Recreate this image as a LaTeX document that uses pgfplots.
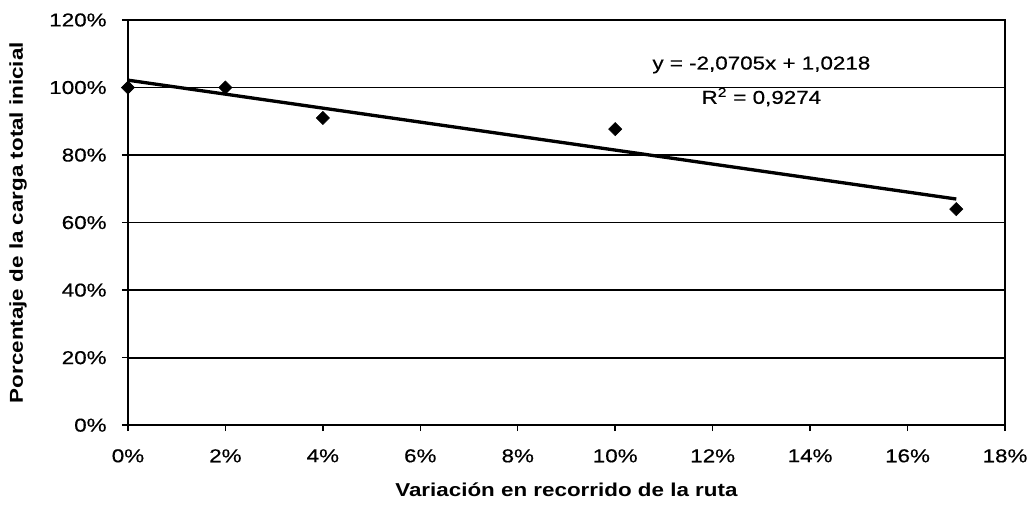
\documentclass[border=0pt]{standalone}
\usepackage{pgfplots}
\pgfplotsset{compat=1.18}
\usepackage{fontspec}
\setmainfont{Liberation Sans}[FakeStretch=1.2]
\newfontfamily\tickfont{Liberation Sans}[FakeStretch=1.2, FakeBold=0.5]
\begin{document}
\begin{tikzpicture}
\useasboundingbox (-96pt,-64.5pt) rectangle (680.5pt,319pt);
\begin{axis}[
  at={(0,0)}, anchor=south west,
  scale only axis, width=658pt, height=304pt,
  xmin=0, xmax=18, ymin=0, ymax=120,
  xtick={0,2,...,18}, ytick={0,20,...,120},
  xticklabels={0\%,2\%,4\%,6\%,8\%,10\%,12\%,14\%,16\%,18\%},
  yticklabels={0\%,20\%,40\%,60\%,80\%,100\%,120\%},
  tick align=outside, tick pos=left,
  major tick length=4.5pt,
  ymajorgrids, grid style={black, line width=1.3pt},
  axis line style={black, line width=1.3pt},
  tick style={black, line width=1.1pt},
  ticklabel style={font=\tickfont\fontsize{14}{16}\selectfont},
  xticklabel style={yshift=-10pt},
  yticklabel style={xshift=-8pt},
  xlabel={\textbf{Variación en recorrido de la ruta}},
  ylabel={\textbf{Porcentaje de la carga total inicial}},
  label style={font=\fontsize{14}{16}\selectfont},
  xlabel style={at={(axis description cs:0.5,-0.16)}, anchor=center},
  ylabel style={at={(axis description cs:-0.1254,0.5)}, anchor=center, rotate=0},
  clip=false,
]
\addplot[only marks, mark=square*, mark options={rotate=45}, mark size=3.5pt, black] coordinates {
  (0,100) (2,100) (4,91) (10,87.7) (17,64)
};
\addplot[black, line width=2.5pt] coordinates {(0,102.18) (17,66.98)};
\node[font=\tickfont\fontsize{14}{16}\selectfont] at (axis cs:13,106.7) {y = -2,0705x + 1,0218};
\node[font=\tickfont\fontsize{14}{16}\selectfont] at (axis cs:13,97.2) {R\textsuperscript{2} = 0,9274};
\end{axis}
\end{tikzpicture}
\end{document}
